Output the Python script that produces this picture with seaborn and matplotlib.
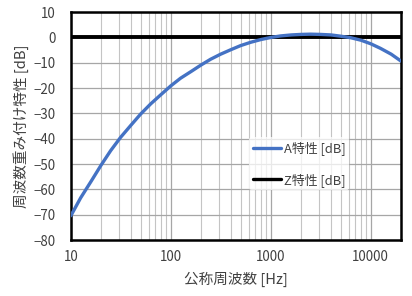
import matplotlib
matplotlib.use("Agg")
import matplotlib.pyplot as plt
import seaborn as sns
import pandas as pd
import numpy as np
from matplotlib.ticker import LogLocator, MultipleLocator, NullFormatter

freq = [10, 12.5, 16, 20, 25, 31.5, 40, 50, 63, 80, 100, 125, 160, 200, 250, 315,
        400, 500, 630, 800, 1000, 1250, 1600, 2000, 2500, 3150, 4000, 5000, 6300,
        8000, 10000, 12500, 16000, 20000]
a_weight = [-70.4, -63.4, -56.7, -50.5, -44.7, -39.4, -34.6, -30.2, -26.2, -22.5,
            -19.1, -16.1, -13.4, -10.9, -8.6, -6.6, -4.8, -3.2, -1.9, -0.8, 0.0,
            0.6, 1.0, 1.2, 1.3, 1.2, 1.0, 0.5, -0.1, -1.1, -2.5, -4.3, -6.6, -9.3]
z_weight = [0.0] * len(freq)
series_names = ["A特性 [dB]", "Z特性 [dB]"]
xlabel = "公称周波数 [Hz]"
ylabel = "周波数重み付け特性 [dB]"

sns.set_style("white")
plt.rcParams['font.family'] = ['Noto Sans CJK JP', 'DejaVu Sans']

df = pd.DataFrame({"freq": freq * 2,
                   "value": a_weight + z_weight,
                   "series": [series_names[0]] * len(freq) + [series_names[1]] * len(freq)})

fig = plt.figure(figsize=(4.12, 2.96), dpi=100)
ax = fig.add_axes([0.172, 0.189, 0.801, 0.770])

sns.lineplot(data=df, x="freq", y="value", hue="series",
             palette={series_names[0]: "#4472C4", series_names[1]: "#000000"},
             ax=ax, linewidth=2.4, legend=True)
ax.lines[1].set_linewidth(2.8)
ax.lines[1].set_zorder(3)
ax.lines[0].set_zorder(4)

ax.set_xscale("log")
ax.set_xlim(10, 20000)
ax.set_ylim(-80, 10)
ax.yaxis.set_major_locator(MultipleLocator(10))
ax.yaxis.set_minor_locator(MultipleLocator(2))
ax.xaxis.set_major_locator(LogLocator(base=10, numticks=10))
ax.xaxis.set_minor_locator(LogLocator(base=10, subs=np.arange(2, 10), numticks=20))
ax.xaxis.set_minor_formatter(NullFormatter())
ax.xaxis.set_major_formatter(matplotlib.ticker.FuncFormatter(lambda v, p: f"{int(round(v))}"))

ax.grid(True, which="major", axis="both", color="#a6a6a6", linewidth=0.9)
ax.grid(True, which="minor", axis="x", color="#c4c4c4", linewidth=0.8)
ax.set_axisbelow(True)

for s in ax.spines.values():
    s.set_color("black")
    s.set_linewidth(1.8)

ax.tick_params(axis="both", which="major", direction="in", length=4, width=1.2,
               labelsize=9.6, colors="black", labelcolor="#404040", pad=7)
ax.tick_params(axis="y", which="major", pad=11)
ax.tick_params(axis="both", which="minor", direction="in", length=3, width=1.2, colors="black")
ax.tick_params(top=False, right=False, which="both")

ax.set_xlabel(xlabel, fontsize=10.5, color="#404040", labelpad=6)
ax.set_ylabel(ylabel, fontsize=10.5, color="#404040", labelpad=3)

handles, labels = ax.get_legend_handles_labels()
leg = ax.legend(handles, labels, loc="upper left", bbox_to_anchor=(0.52, 0.479),
                frameon=True, fontsize=9.3, handlelength=2.2, handletextpad=0.2,
                labelspacing=1.35, borderpad=0.3, labelcolor="#404040")
leg.get_frame().set_facecolor("white")
leg.get_frame().set_alpha(0.75)
leg.get_frame().set_edgecolor("none")
for h in leg.get_lines():
    h.set_linewidth(2.4)

fig.savefig("out.png", dpi=100)
